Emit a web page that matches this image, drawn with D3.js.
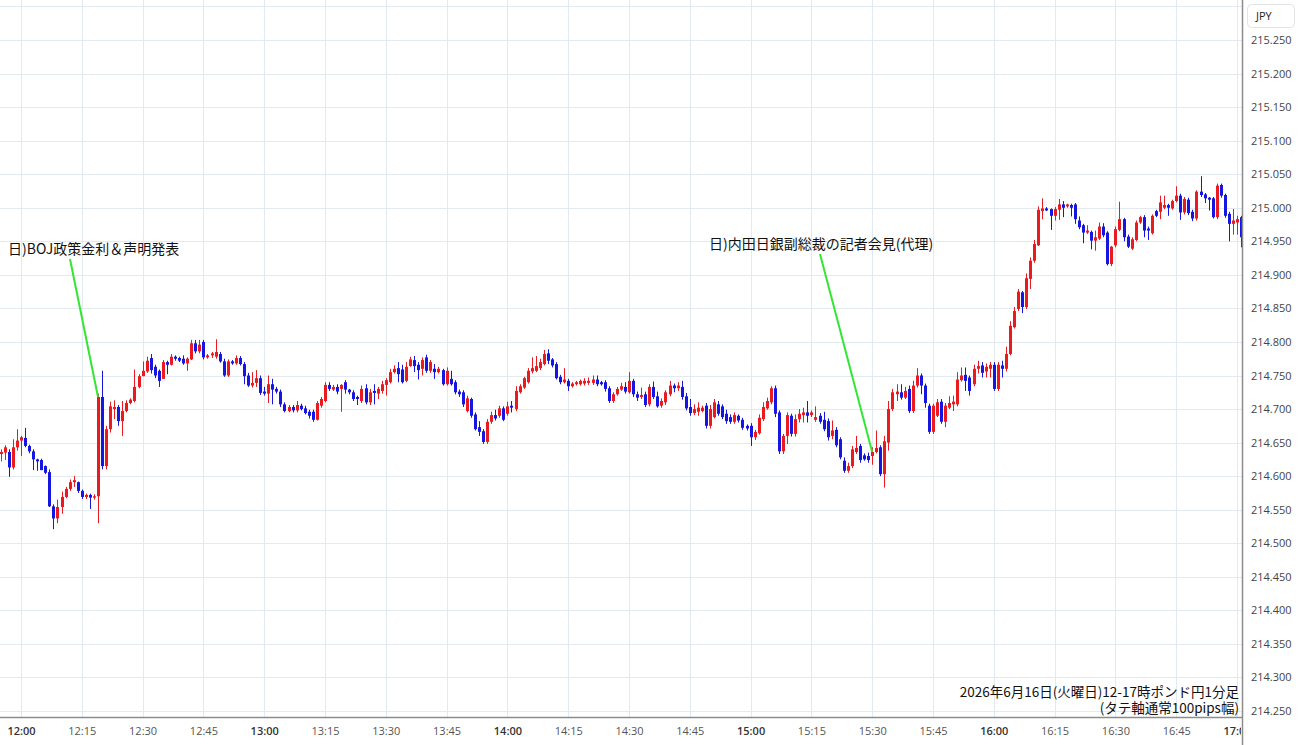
<!DOCTYPE html>
<html>
<head>
<meta charset="utf-8">
<script src="https://cdn.jsdelivr.net/npm/d3@7"></script>
<style>
  body { margin: 0; background: #fff; }
  svg { display: block; }
</style>
</head>
<body>
<svg id="chart" width="1300" height="745"></svg>
<script>
// GBP/JPY 1-minute bars, values in pips above 214.000, first bar = 11:55
var BASE = 214.0;

var opens = [
  63.3, 63.5, 63.6, 61.3, 64.3, 65.3, 65.7, 64.5, 63.7, 62.5,
  62.4, 61.5, 60.6, 55.5, 53.7, 55.4, 56.9, 58.1, 59.1, 59.1,
  57.8, 56.9, 57.2, 56.8, 57.0, 71.8, 61.5, 67.0, 70.0, 70.3,
  68.2, 69.7, 70.9, 71.2, 73.3, 74.9, 75.6, 77.6, 76.3, 75.7,
  74.5, 77.0, 76.6, 77.8, 77.6, 77.5, 76.8, 77.4, 79.8, 78.6,
  80.0, 77.7, 78.0, 77.8, 78.2, 77.1, 75.0, 77.1, 76.8, 77.6,
  76.7, 75.0, 73.5, 73.9, 74.6, 72.6, 72.3, 73.7, 73.0, 72.6,
  70.7, 69.7, 70.3, 69.8, 70.5, 70.1, 69.6, 69.6, 68.4, 70.5,
  71.2, 73.6, 72.9, 73.3, 73.0, 74.0, 72.9, 72.5, 71.8, 71.2,
  73.1, 71.0, 72.7, 72.3, 72.7, 73.6, 74.0, 75.5, 76.1, 75.9,
  74.2, 76.4, 77.3, 76.6, 76.0, 77.7, 75.7, 76.0, 75.5, 75.8,
  73.7, 74.5, 74.0, 72.6, 72.5, 69.7, 71.5, 69.2, 67.3, 66.7,
  65.1, 68.1, 69.1, 69.0, 70.1, 69.3, 70.5, 70.0, 72.5, 73.2,
  74.0, 75.6, 75.7, 76.1, 76.7, 78.3, 77.4, 76.7, 74.8, 74.0,
  74.2, 73.4, 73.7, 73.7, 73.8, 73.9, 73.9, 74.4, 74.0, 74.0,
  73.1, 71.2, 72.2, 72.9, 73.3, 72.5, 74.2, 72.2, 71.8, 72.2,
  70.7, 73.3, 71.9, 70.5, 71.0, 72.2, 73.5, 73.1, 73.3, 71.9,
  70.3, 69.4, 69.6, 69.7, 70.5, 67.5, 68.8, 70.7, 70.4, 69.3,
  68.8, 68.1, 69.0, 68.4, 67.5, 67.5, 65.8, 66.4, 68.5, 70.1,
  71.0, 73.1, 69.5, 63.7, 66.0, 69.0, 66.3, 68.5, 69.1, 69.5,
  69.1, 68.4, 69.0, 68.4, 68.2, 66.0, 66.9, 65.5, 62.3, 60.8,
  61.5, 63.6, 64.5, 63.1, 63.0, 63.0, 63.6, 64.3, 60.3, 65.0,
  70.0, 72.2, 72.5, 71.7, 73.0, 69.7, 73.5, 75.0, 73.5, 70.5,
  66.6, 69.0, 71.1, 68.1, 70.2, 70.7, 70.7, 74.3, 75.1, 74.7,
  73.7, 76.0, 76.5, 75.6, 76.0, 76.6, 73.0, 76.5, 76.0, 78.2,
  82.2, 84.9, 87.4, 85.2, 89.4, 92.1, 94.4, 99.5, 99.9, 99.8,
  98.8, 99.7, 100.5, 100.2, 100.4, 100.5, 98.1, 97.4, 96.3, 96.4,
  95.1, 95.4, 97.2, 96.3, 91.6, 94.4, 96.7, 98.3, 95.7, 93.9,
  95.2, 97.8, 98.6, 96.9, 96.2, 99.5, 99.4, 100.0, 100.4, 99.9,
  101.0, 101.8, 99.3, 101.2, 99.4, 98.4, 102.4, 102.0, 101.5, 101.4,
  98.6, 103.4, 101.9, 99.1, 97.6, 97.8, 98.6
];

var highs = [
  64.0, 64.6, 64.0, 65.5, 67.0, 66.0, 67.2, 64.7, 64.0, 62.6,
  62.6, 61.6, 61.0, 55.8, 56.5, 57.7, 58.4, 59.5, 60.0, 59.2,
  58.0, 57.4, 57.4, 57.3, 72.3, 75.7, 67.5, 71.1, 71.3, 70.6,
  71.2, 71.3, 71.6, 75.9, 75.2, 77.1, 77.8, 78.2, 76.6, 75.9,
  77.3, 77.2, 78.2, 78.0, 77.8, 78.0, 77.7, 80.3, 80.3, 80.3,
  80.3, 78.2, 78.5, 80.4, 78.5, 77.5, 77.4, 77.3, 78.0, 77.9,
  77.0, 75.4, 75.5, 75.8, 75.0, 73.3, 75.0, 74.5, 73.3, 72.9,
  71.0, 70.6, 70.6, 71.2, 70.8, 70.5, 69.9, 69.9, 71.2, 71.8,
  74.0, 74.0, 73.6, 73.7, 73.7, 74.3, 73.0, 72.8, 72.0, 73.5,
  73.7, 73.0, 73.7, 73.3, 74.2, 74.6, 76.0, 76.5, 77.0, 76.6,
  77.0, 77.8, 77.9, 77.0, 77.7, 78.1, 77.3, 76.7, 76.3, 76.0,
  76.2, 75.7, 74.3, 72.9, 72.8, 72.0, 71.7, 69.5, 68.2, 67.0,
  68.5, 69.6, 69.9, 70.5, 70.4, 71.1, 71.2, 73.4, 73.7, 74.8,
  76.1, 77.7, 77.9, 77.5, 78.8, 78.9, 77.6, 77.0, 75.1, 76.1,
  74.5, 74.0, 74.2, 74.4, 74.6, 74.7, 75.0, 75.0, 74.2, 74.3,
  73.4, 72.5, 73.3, 73.9, 74.0, 75.5, 74.5, 72.6, 73.2, 72.6,
  73.7, 74.1, 72.6, 71.6, 72.8, 74.2, 73.8, 74.0, 74.2, 72.4,
  71.5, 70.7, 71.0, 70.5, 70.9, 70.6, 71.5, 71.2, 70.7, 69.9,
  69.2, 69.5, 69.2, 68.7, 67.7, 67.9, 66.9, 69.2, 71.0, 71.7,
  73.4, 73.5, 69.8, 66.3, 69.5, 69.3, 69.2, 70.0, 70.2, 71.2,
  69.8, 70.4, 69.4, 69.6, 68.6, 68.3, 67.3, 65.8, 62.8, 62.0,
  64.5, 66.0, 64.8, 63.4, 63.5, 64.3, 66.8, 64.6, 66.0, 71.2,
  73.0, 73.7, 73.7, 73.3, 73.5, 74.2, 76.1, 75.3, 73.8, 70.8,
  70.8, 71.5, 71.5, 70.9, 71.9, 72.0, 75.5, 76.2, 76.2, 75.0,
  76.6, 77.2, 77.0, 76.8, 77.0, 77.0, 77.0, 77.2, 79.3, 83.1,
  85.2, 87.9, 87.6, 90.2, 92.6, 95.2, 100.2, 101.4, 100.1, 99.9,
  100.1, 101.3, 101.0, 100.6, 100.6, 100.7, 98.7, 97.6, 97.4, 96.6,
  96.6, 97.8, 97.7, 96.5, 94.3, 97.2, 100.9, 98.5, 96.0, 95.6,
  98.1, 98.8, 98.9, 97.2, 99.0, 99.7, 101.8, 101.8, 100.6, 101.2,
  103.2, 102.1, 101.6, 101.5, 99.7, 102.6, 104.7, 102.2, 101.6, 101.6,
  103.6, 103.6, 102.1, 99.4, 99.8, 98.8, 98.8
];

var lows = [
  62.2, 62.4, 59.9, 61.0, 63.8, 63.0, 64.3, 63.4, 60.9, 60.8,
  60.9, 60.3, 55.4, 52.1, 53.0, 54.4, 56.7, 57.8, 58.4, 57.5,
  56.6, 56.6, 55.1, 56.5, 53.0, 61.0, 61.0, 66.5, 68.5, 67.5,
  66.0, 69.5, 70.7, 71.0, 73.1, 74.9, 75.4, 75.3, 74.6, 73.3,
  74.5, 75.2, 76.5, 77.2, 77.0, 76.6, 75.7, 77.3, 78.3, 78.3,
  77.4, 77.5, 77.6, 77.5, 76.9, 74.8, 74.8, 76.6, 76.6, 76.5,
  73.7, 73.3, 73.2, 73.3, 72.1, 72.0, 70.9, 70.7, 72.3, 70.3,
  69.5, 69.5, 69.5, 69.5, 69.8, 69.2, 68.6, 68.1, 68.3, 70.2,
  71.0, 72.7, 72.7, 72.2, 69.6, 72.3, 72.2, 71.2, 70.6, 70.9,
  70.7, 70.6, 70.7, 71.5, 72.3, 72.0, 73.8, 75.3, 74.0, 73.8,
  74.0, 76.3, 75.5, 74.4, 75.0, 75.4, 75.4, 74.5, 75.3, 73.5,
  73.5, 73.5, 72.2, 71.8, 70.3, 69.5, 68.7, 66.8, 66.0, 64.8,
  64.8, 67.8, 68.3, 68.7, 68.2, 69.0, 69.5, 69.7, 72.3, 73.0,
  73.8, 75.3, 75.5, 75.8, 76.5, 76.7, 76.2, 74.4, 73.7, 73.8,
  72.7, 73.2, 73.5, 73.5, 73.5, 73.6, 73.6, 73.4, 73.5, 72.6,
  70.9, 70.9, 72.0, 72.7, 72.3, 72.3, 71.8, 71.2, 71.5, 70.3,
  70.4, 71.5, 70.2, 70.2, 70.6, 71.9, 72.5, 72.7, 71.4, 69.8,
  69.0, 69.1, 69.0, 69.5, 67.1, 67.1, 68.6, 69.0, 68.5, 67.8,
  67.8, 67.8, 68.0, 66.9, 66.8, 64.5, 65.4, 66.2, 68.2, 69.9,
  70.7, 68.8, 63.3, 63.3, 64.8, 65.9, 65.9, 68.0, 68.0, 68.0,
  68.8, 68.1, 67.8, 66.7, 65.3, 65.5, 64.3, 62.5, 60.5, 60.5,
  61.2, 63.3, 62.0, 62.3, 62.0, 61.7, 63.4, 60.0, 58.3, 63.8,
  69.7, 71.2, 71.4, 71.5, 69.4, 69.4, 73.2, 72.2, 70.2, 66.3,
  66.3, 68.8, 67.8, 67.3, 70.0, 69.7, 70.4, 74.1, 72.7, 72.0,
  73.4, 75.3, 74.7, 74.7, 74.7, 72.7, 72.7, 74.7, 75.6, 78.0,
  82.0, 84.6, 84.3, 84.9, 87.9, 91.8, 94.3, 98.3, 99.5, 96.7,
  98.1, 98.2, 98.6, 100.0, 98.7, 97.6, 96.8, 94.7, 96.1, 93.8,
  93.6, 95.2, 95.6, 91.4, 91.3, 94.1, 96.5, 95.0, 94.0, 93.7,
  95.0, 97.6, 95.6, 95.2, 96.0, 98.6, 98.3, 99.8, 98.8, 99.7,
  100.8, 98.2, 99.0, 98.9, 98.0, 98.1, 101.6, 100.7, 99.6, 98.4,
  98.3, 101.5, 98.5, 95.0, 96.0, 96.0, 94.1
];

var closes = [
  63.6, 64.3, 61.3, 64.3, 65.3, 65.8, 64.5, 63.7, 62.5, 62.2,
  60.9, 60.5, 55.5, 53.7, 55.4, 56.9, 58.1, 59.1, 59.4, 57.8,
  56.9, 57.2, 56.8, 57.0, 71.8, 61.5, 67.0, 70.4, 70.3, 68.2,
  69.7, 70.9, 71.4, 73.3, 74.9, 75.7, 77.2, 75.8, 75.0, 74.2,
  77.0, 76.6, 77.8, 77.5, 77.2, 76.8, 77.5, 79.8, 78.6, 79.6,
  77.7, 78.0, 78.3, 78.5, 77.1, 75.0, 77.1, 76.8, 77.6, 76.7,
  74.9, 73.5, 73.9, 74.6, 72.4, 72.3, 73.7, 72.9, 72.6, 70.7,
  69.7, 70.3, 69.8, 70.6, 70.0, 69.4, 69.0, 68.4, 70.9, 71.5,
  73.6, 73.0, 73.3, 72.6, 73.6, 72.9, 72.5, 71.5, 71.5, 73.0,
  71.0, 72.5, 72.4, 73.0, 73.7, 74.3, 75.5, 76.0, 75.2, 74.0,
  76.3, 77.4, 76.4, 75.8, 77.3, 75.7, 77.0, 75.5, 76.0, 73.7,
  75.7, 73.7, 72.5, 72.2, 70.7, 71.6, 69.0, 67.0, 66.6, 65.1,
  68.1, 69.1, 68.6, 70.1, 68.4, 70.4, 70.2, 72.7, 73.4, 74.6,
  75.7, 76.1, 76.4, 77.0, 78.2, 77.2, 76.5, 74.6, 74.0, 74.4,
  73.4, 73.8, 74.0, 74.2, 74.2, 74.2, 74.4, 73.7, 73.7, 73.0,
  71.2, 72.2, 73.0, 73.4, 72.6, 74.2, 72.2, 71.7, 72.1, 70.6,
  73.3, 71.8, 70.4, 71.2, 72.5, 73.5, 73.1, 73.5, 71.8, 70.1,
  69.4, 70.0, 70.2, 70.2, 67.5, 70.0, 71.0, 69.3, 68.8, 68.2,
  68.1, 69.1, 68.3, 67.2, 67.1, 65.8, 66.6, 68.7, 70.3, 71.2,
  73.1, 69.3, 63.7, 66.0, 69.1, 66.3, 68.5, 69.3, 69.5, 69.0,
  69.5, 68.8, 68.1, 67.0, 65.8, 66.8, 64.6, 62.8, 60.8, 61.5,
  64.0, 64.2, 62.4, 62.5, 62.4, 63.6, 64.2, 60.3, 65.2, 70.0,
  72.5, 72.6, 71.7, 72.7, 69.7, 73.5, 75.0, 73.5, 70.9, 66.6,
  70.5, 71.0, 68.1, 70.5, 70.9, 71.1, 74.4, 75.0, 74.2, 72.7,
  76.0, 76.4, 75.4, 76.3, 76.6, 73.0, 76.6, 76.0, 78.2, 82.4,
  84.6, 87.5, 85.2, 89.5, 92.1, 94.6, 99.7, 99.9, 99.6, 98.8,
  99.8, 100.5, 100.0, 100.5, 100.0, 98.3, 97.1, 96.3, 96.6, 95.1,
  95.6, 97.2, 95.9, 91.6, 94.2, 96.8, 98.3, 95.6, 94.2, 95.3,
  97.8, 98.6, 96.6, 96.6, 98.8, 98.8, 100.8, 100.4, 100.0, 101.0,
  101.8, 99.3, 101.3, 99.2, 98.4, 102.4, 101.9, 101.4, 101.2, 98.6,
  103.3, 101.8, 98.8, 97.6, 98.1, 98.3, 95.6
];

var priceTicks = [214.25, 214.30, 214.35, 214.40, 214.45, 214.50, 214.55, 214.60,
  214.65, 214.70, 214.75, 214.80, 214.85, 214.90, 214.95, 215.00, 215.05,
  215.10, 215.15, 215.20, 215.25];
var timeTicks = ["12:00", "12:15", "12:30", "12:45", "13:00", "13:15", "13:30",
  "13:45", "14:00", "14:15", "14:30", "14:45", "15:00", "15:15", "15:30",
  "15:45", "16:00", "16:15", "16:30", "16:45", "17:00"];

var noteTimes = ["12:19", "15:30"];
var noteTexts = ["日)BOJ政策金利＆声明発表", "日)内田日銀副総裁の記者会見(代理)"];

var titleLines = ["2026年6月16日(火曜日)12-17時ポンド円1分足", "(タテ軸通常100pips幅)"];

// ---------------------------------------------------------------

var day = "2026-06-16T";
var parseT = d3.timeParse("%Y-%m-%dT%H:%M");
var startTime = parseT(day + "11:55");

var bars = closes.map(function (c, i) {
  return {
    t: d3.timeMinute.offset(startTime, i),
    o: BASE + opens[i] / 100,
    h: BASE + highs[i] / 100,
    l: BASE + lows[i] / 100,
    c: BASE + c / 100
  };
});

var plotR = 1242, plotB = 717;

var x = d3.scaleTime()
  .domain([parseT(day + "12:00"), parseT(day + "17:00")])
  .range([21, 1237]);
var y = d3.scaleLinear()
  .domain([214.25, 215.25])
  .range([711, 40]);

var svg = d3.select("#chart");

var defs = svg.append("defs");
defs.append("clipPath").attr("id", "plotClip")
  .append("rect").attr("x", 0).attr("y", 0).attr("width", plotR).attr("height", plotB);
defs.append("clipPath").attr("id", "timeClip")
  .append("rect").attr("x", 0).attr("y", plotB).attr("width", plotR - 1).attr("height", 30);

// grid
var grid = svg.append("g").attr("clip-path", "url(#plotClip)");
grid.selectAll("line.h")
  .data(priceTicks.concat([215.30]))
  .enter().append("line")
  .attr("class", "h")
  .attr("x1", 0).attr("x2", plotR)
  .attr("y1", function (d) { return Math.round(y(d)) + 0.5; })
  .attr("y2", function (d) { return Math.round(y(d)) + 0.5; })
  .attr("stroke", "#e2e9f0").attr("stroke-width", 1);
grid.selectAll("line.v")
  .data(timeTicks)
  .enter().append("line")
  .attr("class", "v")
  .attr("x1", function (d) { return Math.round(x(parseT(day + d))) + 0.5; })
  .attr("x2", function (d) { return Math.round(x(parseT(day + d))) + 0.5; })
  .attr("y1", 0).attr("y2", plotB)
  .attr("stroke", "#e2e9f0").attr("stroke-width", 1);

// candles
var red = "#ea1a1f", blue = "#1616e2";
var candles = svg.append("g").attr("clip-path", "url(#plotClip)")
  .selectAll("g.bar")
  .data(bars)
  .enter().append("g")
  .attr("class", "bar");

candles.append("line")
  .attr("x1", function (d) { return Math.round(x(d.t)) + 0.5; })
  .attr("x2", function (d) { return Math.round(x(d.t)) + 0.5; })
  .attr("y1", function (d) { return y(d.h); })
  .attr("y2", function (d) { return y(d.l); })
  .attr("stroke", function (d) { return d.c >= d.o ? red : blue; })
  .attr("stroke-width", 1);

candles.append("rect")
  .attr("x", function (d) { return Math.round(x(d.t)) - 1; })
  .attr("width", 3)
  .attr("y", function (d) { return y(Math.max(d.o, d.c)); })
  .attr("height", function (d) { return Math.max(1, Math.abs(y(d.o) - y(d.c))); })
  .attr("fill", function (d) { return d.c >= d.o ? red : blue; });

// annotations
var noteX = [8, 709], noteY = [254, 249];
var notes = svg.append("g");
noteTimes.forEach(function (tm, i) {
  var t = parseT(day + tm);
  var bar = bars.find(function (b) { return +b.t === +t; });
  notes.append("line")
    .attr("x1", noteX[i] + (i === 0 ? 62 : 111))
    .attr("y1", noteY[i] + 5)
    .attr("x2", x(bar.t))
    .attr("y2", y(bar.c))
    .attr("stroke", "#33e633")
    .attr("stroke-width", 2);
  notes.append("text")
    .attr("x", noteX[i]).attr("y", noteY[i])
    .attr("font-family", "'Noto Sans CJK JP', sans-serif")
    .attr("font-size", 14)
    .attr("fill", "#111")
    .text(noteTexts[i]);
});

// title bottom right
svg.selectAll("text.title")
  .data(titleLines)
  .enter().append("text")
  .attr("class", "title")
  .attr("x", 1239)
  .attr("y", function (d, i) { return 697 + i * 16; })
  .attr("text-anchor", "end")
  .attr("font-family", "'Noto Sans CJK JP', sans-serif")
  .attr("font-size", 13.5)
  .attr("fill", "#111")
  .text(function (d) { return d; });

// right axis
var yAxis = d3.axisRight(y)
  .tickValues(priceTicks)
  .tickFormat(d3.format(".3f"))
  .tickSize(0)
  .tickPadding(9);
var gy = svg.append("g")
  .attr("transform", "translate(" + plotR + ",0)")
  .call(yAxis);
gy.select(".domain").remove();
gy.selectAll("text")
  .attr("font-family", "'Open Sans', sans-serif")
  .attr("font-size", 11)
  .attr("fill", "#444");

// bottom axis
var xAxis = d3.axisBottom(x)
  .tickValues(timeTicks.map(function (d) { return parseT(day + d); }))
  .tickFormat(d3.timeFormat("%H:%M"))
  .tickSize(0)
  .tickPadding(10);
var gxWrap = svg.append("g").attr("clip-path", "url(#timeClip)");
var gx = gxWrap.append("g")
  .attr("transform", "translate(0," + plotB + ")")
  .call(xAxis);
gx.select(".domain").remove();
gx.selectAll("text")
  .attr("font-family", "'Open Sans', sans-serif")
  .attr("font-size", 11)
  .attr("font-weight", function (d) { return d.getMinutes() === 0 ? 600 : 400; })
  .attr("fill", function (d) { return d.getMinutes() === 0 ? "#333" : "#555"; });

// frame lines
svg.append("line")
  .attr("x1", 0).attr("x2", plotR)
  .attr("y1", plotB + 0.5).attr("y2", plotB + 0.5)
  .attr("stroke", "#8c8c8c").attr("stroke-width", 1.5);
svg.append("line")
  .attr("x1", plotR + 0.5).attr("x2", plotR + 0.5)
  .attr("y1", 0).attr("y2", 745)
  .attr("stroke", "#8c8c8c").attr("stroke-width", 1.5);

// currency box
svg.append("rect")
  .attr("x", 1247.5).attr("y", 4.5)
  .attr("width", 47).attr("height", 23)
  .attr("rx", 4)
  .attr("fill", "#fff")
  .attr("stroke", "#e4e4e4");
svg.append("text")
  .attr("x", 1256).attr("y", 20)
  .attr("font-family", "'Open Sans', sans-serif")
  .attr("font-size", 11)
  .attr("fill", "#222")
  .text("JPY");
</script>
</body>
</html>
